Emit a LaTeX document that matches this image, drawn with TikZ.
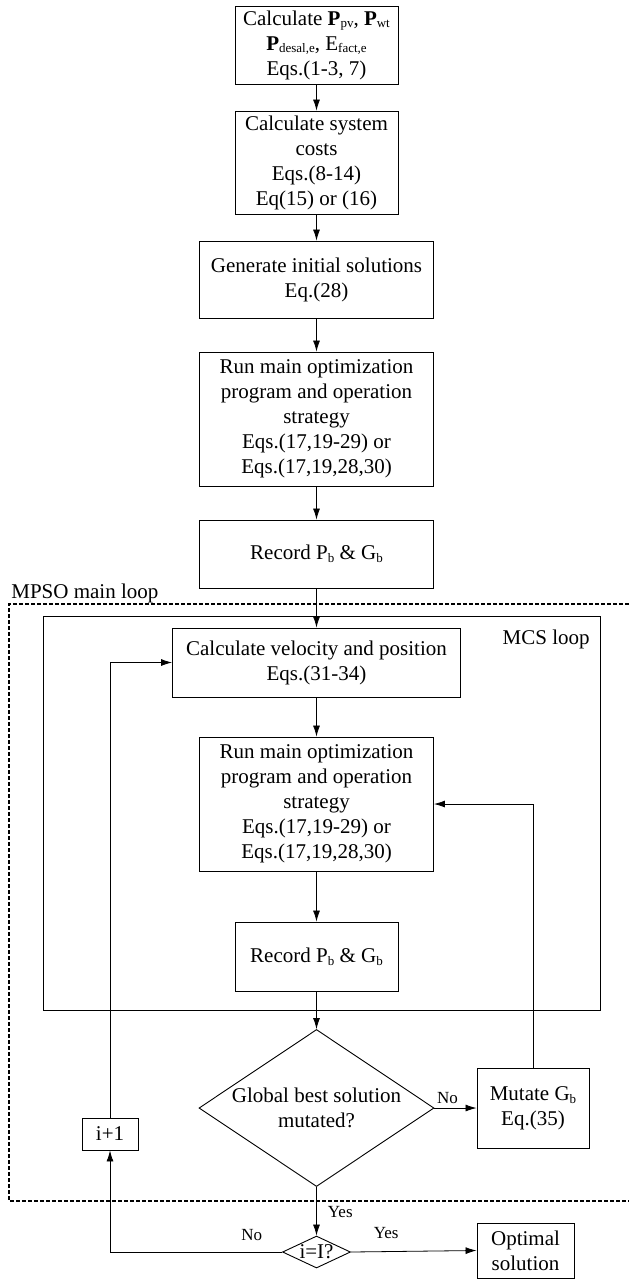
\documentclass[tikz,border=0pt]{standalone}
\usepackage{fontspec}
\setmainfont{Liberation Serif}
\usetikzlibrary{arrows.meta}
\usetikzlibrary{shapes}
\newcommand{\sbs}[1]{\raisebox{-0.3ex}{\fontsize{13}{13}\selectfont #1}}
\tikzset{
        flownode/.style={align=center, inner sep=0pt, font=\fontsize{21}{25}\selectfont, line width=0.9pt},
        % Process boxes
        node_process/.style={flownode, rectangle, draw=black, fill=white},
        % Decision nodes
        node_decision/.style={flownode, diamond, draw=black, fill=white},
        % Loop frames
        node_frame/.style={rectangle, draw=black, line width=0.9pt, inner sep=0pt},
        % Frame titles
        node_title/.style={inner sep=0pt, font=\fontsize{21}{25}\selectfont},
        % Branch labels
        node_branch/.style={inner sep=0pt, font=\fontsize{17}{17}\selectfont}
}

\begin{document}
\begin{tikzpicture}[
            x=1pt, y=-1pt,
            ->, >={Latex[length=11pt,width=7pt]},
            line width=0.8pt
        ]
            \useasboundingbox (0,0) rectangle (629,1279);
            % loops
            \draw[-, line width=1.1pt, dash pattern=on 4pt off 2pt] (629,604) -- (9,604) -- (9,1201) -- (629,1201);
            \node[node_title, anchor=base west] (mpso) at (11,598) {MPSO main loop};
            \node[node_frame, minimum width=557, minimum height=394] (mcs) at (321.5,813) {};
            \node[node_title, anchor=base east] (mcsl) at (590,644) {MCS loop};
            % initialisation
            \node[node_process, minimum width=163, minimum height=78] (b1) at (316.5,45)
                {Calculate \textbf{P}\sbs{pv}, \textbf{P}\sbs{wt}\\ \textbf{P}\sbs{desal,e}, E\sbs{fact,e}\\ Eqs.(1-3, 7)};
            \node[node_process, minimum width=163, minimum height=103] (b2) at (316.5,162.5)
                {Calculate system\\ costs\\ Eqs.(8-14)\\ Eq(15) or (16)};
            \node[node_process, minimum width=234, minimum height=77] (b3) at (316.5,279.5)
                {Generate initial solutions\\ Eq.(28)};
            \node[node_process, minimum width=234, minimum height=134] (b4) at (316.5,419)
                {Run main optimization\\ program and operation\\ strategy\\ Eqs.(17,19-29) or\\ Eqs.(17,19,28,30)};
            \node[node_process, minimum width=234, minimum height=68] (b5) at (316.5,554)
                {Record P\sbs{b} \& G\sbs{b}};
            % MCS loop
            \node[node_process, minimum width=288, minimum height=69] (c1) at (316.5,662.5)
                {Calculate velocity and position\\ Eqs.(31-34)};
            \node[node_process, minimum width=234, minimum height=134] (c2) at (316.5,804)
                {Run main optimization\\ program and operation\\ strategy\\ Eqs.(17,19-29) or\\ Eqs.(17,19,28,30)};
            \node[node_process, minimum width=163, minimum height=69] (c3) at (316.5,956.5)
                {Record P\sbs{b} \& G\sbs{b}};
            % decisions
            \node[node_decision, aspect=1.5, minimum width=235, minimum height=157] (d1) at (316.5,1108)
                {Global best solution\\ mutated?};
            \node[node_process, minimum width=112, minimum height=80] (m1) at (533,1108)
                {Mutate G\sbs{b}\\ Eq.(35)};
            \node[node_process, minimum width=56, minimum height=32] (i1) at (110,1134) {i+1};
            \node[node_decision, aspect=2.1, minimum width=68, minimum height=32] (d2) at (316.5,1252) {i=I?};
            \node[node_process, minimum width=97, minimum height=55] (opt) at (525.5,1250.5)
                {Optimal\\ solution};
            % connectors
            \draw (b1) -- (b2);
            \draw (b2) -- (b3);
            \draw (b3) -- (b4);
            \draw (b4) -- (b5);
            \draw (b5) -- (c1);
            \draw (c1) -- (c2);
            \draw (c2) -- (c3);
            \draw (c3) -- (d1);
            \draw (d1.east) -- node[node_branch, anchor=base, pos=0.31, yshift=5pt] {No} (m1.west);
            \draw (m1.north) |- (c2.east);
            \draw (d1.south) -- node[node_branch, anchor=base west, pos=0.62, xshift=11pt] {Yes} (d2.north);
            \draw (d2.east) -- node[node_branch, anchor=base, pos=0.28, yshift=13pt] {Yes} (opt.west);
            \draw (d2.west) -| node[node_branch, anchor=base, pos=0.088, yshift=12pt] {No} (i1.south);
            \draw (i1.north) |- (c1.west);
        \end{tikzpicture}
\end{document}
